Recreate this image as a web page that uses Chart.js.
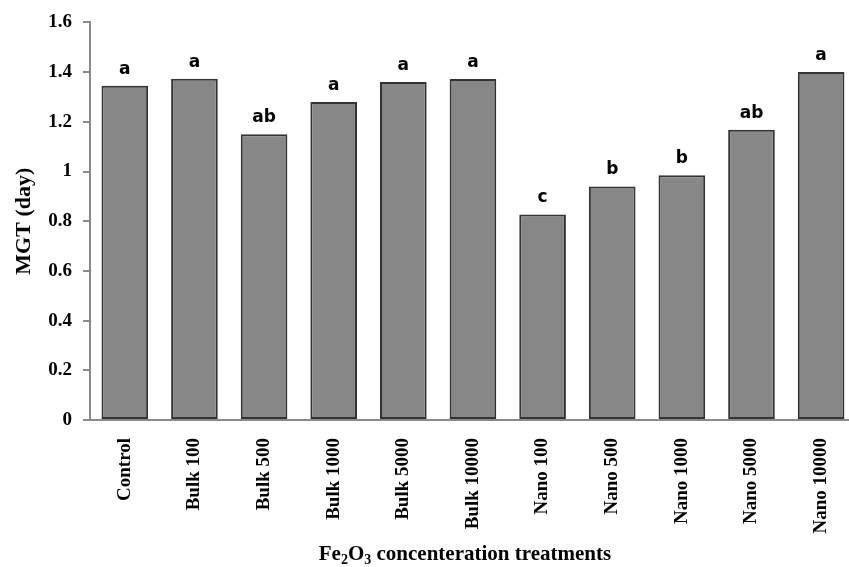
<!DOCTYPE html>
<html>
<head>
<meta charset="utf-8">
<script src="https://cdn.jsdelivr.net/npm/chart.js@4.4.0/dist/chart.umd.min.js"></script>
<style>
  html, body { margin: 0; padding: 0; overflow: hidden; background: #ffffff; }
  #wrap { width: 862px; height: 567px; }
</style>
</head>
<body>
<div id="wrap"><canvas id="c" width="862" height="567"></canvas></div>
<script>
const categories = ["Control", "Bulk 100", "Bulk 500", "Bulk 1000", "Bulk 5000", "Bulk 10000",
  "Nano 100", "Nano 500", "Nano 1000", "Nano 5000", "Nano 10000"];
const mgtValues = [1.345, 1.373, 1.15, 1.28, 1.36, 1.372, 0.827, 0.94, 0.985, 1.168, 1.40];
const groupLetters = ["a", "a", "ab", "a", "a", "a", "c", "b", "b", "ab", "a"];
const yTickLabels = ["0", "0.2", "0.4", "0.6", "0.8", "1", "1.2", "1.4", "1.6"];
const yTitle = "MGT (day)";
const xTitleParts = [["Fe", false], ["2", true], ["O", false], ["3", true], [" concenteration treatments", false]];

const serif = '"Liberation Serif", "Times New Roman", serif';

const lettersPlugin = {
  id: 'letters',
  afterDatasetsDraw(chart) {
    const ctx = chart.ctx;
    const meta = chart.getDatasetMeta(0);
    ctx.save();
    ctx.font = 'bold 17px "DejaVu Sans", Verdana, sans-serif';
    ctx.fillStyle = '#000000';
    ctx.textAlign = 'center';
    ctx.textBaseline = 'alphabetic';
    meta.data.forEach((bar, i) => {
      ctx.fillText(groupLetters[i], bar.x, bar.y - 12);
    });
    ctx.restore();
  }
};

const xTitlePlugin = {
  id: 'xtitle',
  afterDraw(chart) {
    const ctx = chart.ctx;
    const area = chart.chartArea;
    const big = 'bold 21px ' + serif;
    const small = 'bold 14px ' + serif;
    ctx.save();
    ctx.fillStyle = '#000000';
    ctx.textBaseline = 'alphabetic';
    ctx.textAlign = 'left';
    let total = 0;
    xTitleParts.forEach(([t, sub]) => { ctx.font = sub ? small : big; total += ctx.measureText(t).width; });
    const cx = (area.left + area.right) / 2 - 8;
    let x = cx - total / 2;
    const base = area.bottom + 140;
    xTitleParts.forEach(([t, sub]) => {
      ctx.font = sub ? small : big;
      ctx.fillText(t, x, sub ? base + 4 : base);
      x += ctx.measureText(t).width;
    });
    ctx.restore();
  }
};

new Chart(document.getElementById('c'), {
  type: 'bar',
  data: {
    labels: categories,
    datasets: [{
      data: mgtValues,
      backgroundColor: '#878787',
      borderColor: '#333333',
      borderWidth: 2,
      borderSkipped: false,
      barPercentage: 0.67,
      categoryPercentage: 1.0
    }]
  },
  options: {
    responsive: false,
    animation: false,
    layout: { padding: { top: 19, right: 2, left: 0, bottom: 0 } },
    plugins: { legend: { display: false }, tooltip: { enabled: false } },
    scales: {
      x: {
        afterFit(scale) { scale.height = 147; },
        grid: { display: true, drawOnChartArea: false, drawTicks: false },
        border: { display: true, color: '#8a8a8a', width: 2 },
        ticks: {
          color: '#000000',
          font: { family: serif, size: 19, weight: 'bold' },
          minRotation: 90, maxRotation: 90,
          padding: 18,
          autoSkip: false
        }
      },
      y: {
        min: 0, max: 1.6,
        afterFit(scale) { scale.width = 90; },
        afterBuildTicks(scale) {
          scale.ticks = yTickLabels.map(v => ({ value: parseFloat(v) }));
        },
        grid: { display: true, drawOnChartArea: false, drawTicks: true, tickLength: 7, color: '#8a8a8a', lineWidth: 2 },
        border: { display: true, color: '#8a8a8a', width: 2 },
        ticks: {
          color: '#000000',
          font: { family: serif, size: 19, weight: 'bold' },
          padding: 11,
          callback(value, index) { return yTickLabels[index]; }
        },
        title: {
          display: true,
          text: yTitle,
          color: '#000000',
          font: { family: serif, size: 22, weight: 'bold' },
          padding: { top: 11, bottom: 0 }
        }
      }
    }
  },
  plugins: [lettersPlugin, xTitlePlugin]
});
</script>
</body>
</html>
